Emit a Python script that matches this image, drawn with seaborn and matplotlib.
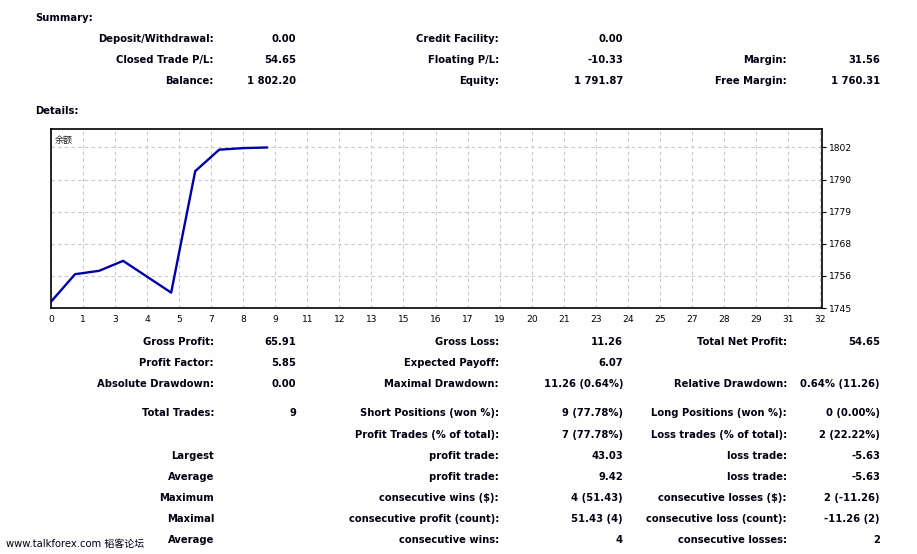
import matplotlib
matplotlib.use("Agg")
import matplotlib.pyplot as plt
import seaborn as sns
import numpy as np

# balance curve (trade number -> balance)
trade_no = [0, 1, 2, 3, 4, 5, 6, 7, 8, 9]
balance = [1747.55, 1757.30, 1758.50, 1762.03, 1756.40, 1750.77, 1793.80, 1801.42, 1801.97, 1802.20]

y_ticks = [1745.33, 1756.70, 1768.08, 1779.45, 1790.83, 1802.20]
y_labels = ["1745", "1756", "1768", "1779", "1790", "1802"]
x_ticks = [i * 4 / 3 for i in range(25)]
x_labels = [str(int(round(v))) for v in x_ticks]

summary_rows = [
    ("Deposit/Withdrawal:", "0.00", "Credit Facility:", "0.00", "", ""),
    ("Closed Trade P/L:", "54.65", "Floating P/L:", "-10.33", "Margin:", "31.56"),
    ("Balance:", "1 802.20", "Equity:", "1 791.87", "Free Margin:", "1 760.31"),
]
details_rows = [
    ("Gross Profit:", "65.91", "Gross Loss:", "11.26", "Total Net Profit:", "54.65"),
    ("Profit Factor:", "5.85", "Expected Payoff:", "6.07", "", ""),
    ("Absolute Drawdown:", "0.00", "Maximal Drawdown:", "11.26 (0.64%)", "Relative Drawdown:", "0.64% (11.26)"),
    ("Total Trades:", "9", "Short Positions (won %):", "9 (77.78%)", "Long Positions (won %):", "0 (0.00%)"),
    ("", "", "Profit Trades (% of total):", "7 (77.78%)", "Loss trades (% of total):", "2 (22.22%)"),
    ("Largest", "", "profit trade:", "43.03", "loss trade:", "-5.63"),
    ("Average", "", "profit trade:", "9.42", "loss trade:", "-5.63"),
    ("Maximum", "", "consecutive wins ($):", "4 (51.43)", "consecutive losses ($):", "2 (-11.26)"),
    ("Maximal", "", "consecutive profit (count):", "51.43 (4)", "consecutive loss (count):", "-11.26 (2)"),
    ("Average", "", "consecutive wins:", "4", "consecutive losses:", "2"),
]

sns.set_style("white")
plt.rcParams['font.family'] = ['DejaVu Sans', 'Noto Sans CJK SC']

W, H = 917, 554
fig = plt.figure(figsize=(W / 100, H / 100), dpi=100)
fig.patch.set_facecolor("#fefefe")

ax = fig.add_axes([51 / W, 1 - 308 / H, (822 - 51) / W, (308 - 129) / H])
sns.lineplot(x=trade_no, y=balance, ax=ax, color="#0000aa", linewidth=1.7)
ax.set_xlim(0, 32.08)
ax.set_ylim(1745.33, 1808.74)
ax.set_xticks(x_ticks)
ax.set_xticklabels(x_labels)
ax.set_yticks(y_ticks)
ax.set_yticklabels(y_labels)
ax.yaxis.tick_right()
ax.tick_params(axis="both", labelsize=6.6, length=3, width=0.8, direction="out", pad=2, colors="black")
ax.grid(True, color="#c8c8c8", linestyle=(0, (3, 3)), linewidth=0.8)
for s in ax.spines.values():
    s.set_color("black")
    s.set_linewidth(1.2)
ax.text(0.005, 0.96, "余额", transform=ax.transAxes, fontsize=6.5, va="top", ha="left",
        family=["Noto Sans CJK SC", "DejaVu Sans"])

def put(x, y, s, ha="right", weight="bold", size=7.2, family=None):
    kw = {}
    if family:
        kw["family"] = family
    fig.text(x / W, 1 - y / H, s, ha=ha, va="center", fontsize=size, weight=weight, color="#000010", **kw)

label_x = [214, 499, 787]
value_x = [296, 623, 880]

put(35, 18, "Summary:", ha="left")
for row, y in zip(summary_rows, [39, 60, 81]):
    for c in range(3):
        put(label_x[c], y, row[2 * c])
        put(value_x[c], y, row[2 * c + 1])
put(35, 111, "Details:", ha="left")

for row, y in zip(details_rows, [342, 363, 384, 413, 435, 456, 477, 498, 519, 540]):
    for c in range(3):
        put(label_x[c], y, row[2 * c])
        put(value_x[c], y, row[2 * c + 1])

put(6, 544, "www.talkforex.com 韬客论坛", ha="left", weight="normal", size=7.2,
    family=["DejaVu Sans", "Noto Sans CJK SC"])

fig.savefig("out.png", dpi=100, facecolor=fig.get_facecolor())
